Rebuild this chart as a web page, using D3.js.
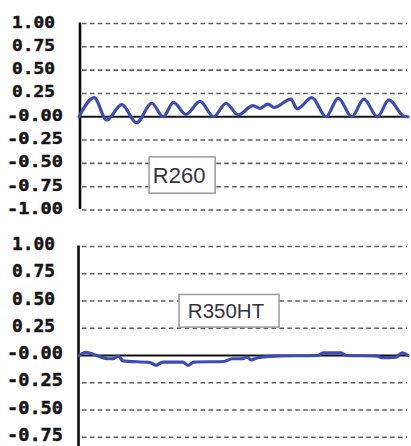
<!DOCTYPE html>
<html>
<head>
<meta charset="utf-8">
<script src="https://cdn.jsdelivr.net/npm/d3@7"></script>
<style>
  html, body { margin: 0; padding: 0; background: #fff; }
  svg { display: block; }
  .tick-label { font-family: "DejaVu Sans Mono", "Liberation Mono", monospace; font-weight: bold; fill: #151515; stroke: #151515; stroke-width: 0.45px; }
  .tag text { font-family: "Liberation Sans", Arial, sans-serif; fill: #343440; }
</style>
</head>
<body>
<svg id="chart"></svg>
<script>
// y ticks shared by both panels
const tickValues = [1, 0.75, 0.5, 0.25, 0, -0.25, -0.5, -0.75, -1];
const tickLabels = ['1.00', '0.75', '0.50', '0.25', '-0.00', '-0.25', '-0.50', '-0.75', '-1.00'];

// R260 trace (position along record, value)
const r260X = [0, 4.6, 8.4, 13.0, 17.5, 22.1, 25.6, 28.7, 32.5, 36.8, 40.9, 44.7, 48.4, 52.9, 55.0, 57.4,
  59.3, 64.4, 66.3, 70.8, 75.1, 78.8, 82.9, 86.6, 90.7, 94.2, 98.8, 100];
const r260Y = [0, 0.205, -0.035, 0.13, -0.065, 0.145, 0, 0.155, 0.025, 0.165, 0, 0.145, 0.02, 0.12, 0.09, 0.135,
  0.1, 0.19, 0.085, 0.205, 0, 0.2, 0, 0.19, 0, 0.18, 0.005, 0];

// R350HT trace
const r350X = [0, 2.1, 4.9, 8.8, 10.3, 11.9, 13.4, 21.6, 23.4, 25.5, 31.6, 33.1, 34.9, 44.1, 46.5, 49.5,
  51.1, 52.3, 54.4, 59.9, 72.6, 74.2, 79.6, 81.2, 90.6, 92.1, 96.4, 98.2, 100];
const r350Y = [0, 0.03, 0.005, -0.03, -0.03, -0.005, -0.05, -0.065, -0.09, -0.06, -0.06, -0.09, -0.06, -0.055, -0.03, -0.03,
  -0.015, -0.04, -0.02, -0.005, 0, 0.025, 0.025, 0, -0.005, -0.02, -0.015, 0.025, 0];

const W = 411, H = 446;
const svg = d3.select('#chart').attr('width', W).attr('height', H);

const x = d3.scaleLinear().domain([0, 100]).range([79, 408]);

const panels = [
  {
    name: 'R260', xs: r260X, ys: r260Y,
    y: d3.scaleLinear().domain([-1, 1]).range([210, 23.5]),
    axisX: 80, axisBottom: 209, labelSize: 15, labelDy: 4,
    tag: { x0: 21.3, x1: 41.4, v0: -0.43, v1: -0.82, size: 22 }
  },
  {
    name: 'R350HT', xs: r350X, ys: r350Y,
    y: d3.scaleLinear().domain([-1, 1]).range([464.5, 246.5]),
    axisX: 78.5, axisBottom: H, labelSize: 17, labelDy: 3.5,
    tag: { x0: 30.4, x1: 60.8, v0: 0.56, v1: 0.26, size: 20.5 }
  }
];

panels.forEach(p => {
  const g = svg.append('g').attr('class', 'panel');
  // only ticks that land inside the picture
  const ticks = tickValues
    .map((v, i) => ({ v: v, label: tickLabels[i] }))
    .filter(d => p.y(d.v) < H - 4);

  // dashed grid lines, zero drawn solid
  g.selectAll('line.grid')
    .data(ticks.filter(d => d.v !== 0))
    .enter()
    .append('line')
    .attr('class', 'grid')
    .attr('x1', x(0) + 3)
    .attr('x2', x(100) - 1)
    .attr('y1', d => p.y(d.v))
    .attr('y2', d => p.y(d.v))
    .attr('stroke', '#5e5e5e')
    .attr('stroke-width', 1.6)
    .attr('stroke-dasharray', '4.5,3.4');

  g.append('line')
    .attr('x1', p.axisX)
    .attr('x2', x(100))
    .attr('y1', p.y(0))
    .attr('y2', p.y(0))
    .attr('stroke', '#111')
    .attr('stroke-width', 1.8);

  // vertical axis
  g.append('line')
    .attr('x1', p.axisX)
    .attr('x2', p.axisX)
    .attr('y1', p.y(1) - 1)
    .attr('y2', p.axisBottom)
    .attr('stroke', '#0c0c0c')
    .attr('stroke-width', 2.6);

  g.selectAll('text.tick-label')
    .data(ticks)
    .enter()
    .append('text')
    .attr('class', 'tick-label')
    .attr('x', d => d.label.startsWith('-') ? 7 : 12)
    .attr('y', d => p.y(d.v) + p.labelDy)
    .attr('font-size', p.labelSize)
    .attr('textLength', d => d.label.startsWith('-') ? 56 : 43)
    .attr('lengthAdjust', 'spacingAndGlyphs')
    .text(d => d.label);

  const line = d3.line()
    .x(d => x(d[0]))
    .y(d => p.y(d[1]))
    .curve(d3.curveMonotoneX);

  g.append('path')
    .datum(d3.zip(p.xs, p.ys))
    .attr('d', line)
    .attr('fill', 'none')
    .attr('stroke', '#3b4db2')
    .attr('stroke-width', 3.2)
    .attr('stroke-linejoin', 'round')
    .attr('stroke-linecap', 'round');

  // name tag box
  const t = p.tag;
  const tag = g.append('g').attr('class', 'tag');
  tag.append('rect')
    .attr('x', x(t.x0))
    .attr('y', p.y(t.v0))
    .attr('width', x(t.x1) - x(t.x0))
    .attr('height', p.y(t.v1) - p.y(t.v0))
    .attr('fill', '#fff')
    .attr('stroke', '#9a9a9a')
    .attr('stroke-width', 1.5);
  tag.append('text')
    .attr('x', (x(t.x0) + x(t.x1)) / 2 - 3)
    .attr('y', (p.y(t.v0) + p.y(t.v1)) / 2)
    .attr('dy', '0.36em')
    .attr('text-anchor', 'middle')
    .attr('font-size', t.size)
    .text(p.name);
});
</script>
</body>
</html>
